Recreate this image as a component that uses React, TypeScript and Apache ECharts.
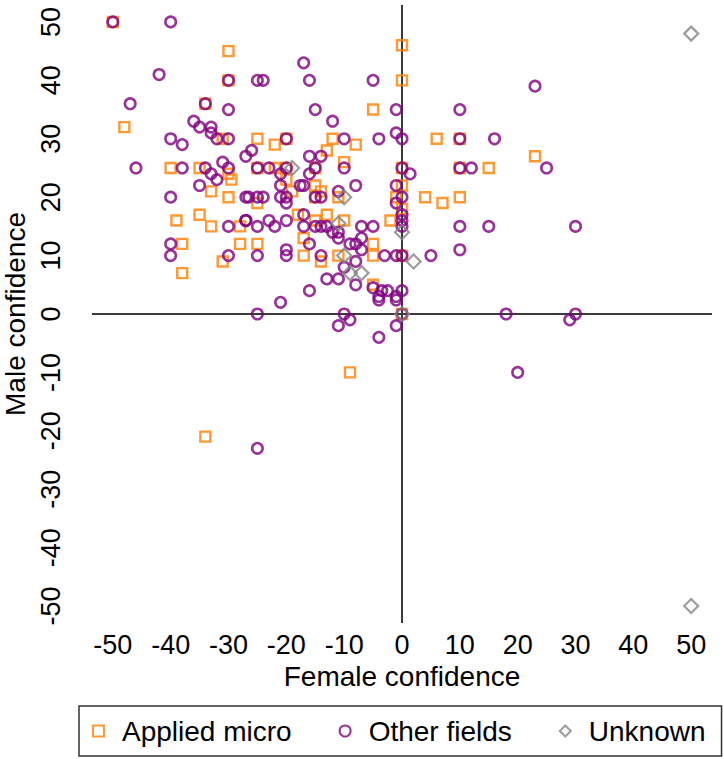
import React, { useEffect, useRef } from 'react';
import * as echarts from 'echarts';

const tickValues = [-50, -40, -30, -20, -10, 0, 10, 20, 30, 40, 50];

const appliedMicro: number[][] = [
  [-50, 50], [-30, 45], [-30, 40], [-34, 36], [-48, 32], [-31, 30], [-40, 25], [-35, 25], [-30, 24], [-29.5, 23],
  [-33, 21], [-30, 20], [-39, 16], [-35, 17], [-33, 15], [-28, 15], [-38, 12], [-28, 12], [-31, 9], [-38, 7], [-34, -21],
  [0, 46], [0, 40], [-5, 35], [-25, 30], [-22, 29], [-20, 30], [-12, 30], [-8, 29], [-13, 28], [-10, 26], [-25, 25],
  [-22, 25], [-20, 25], [-15, 25], [-20, 23], [-19, 21], [-15, 22], [-14, 21], [-11, 20], [-15, 20], [-1, 20], [0, 22],
  [0, 18], [-2, 16], [0, 25], [-25, 19], [-18, 17], [-15, 16], [-13, 17], [-10, 16], [-25, 12], [-17, 13], [-17, 10],
  [-14, 9], [-11, 10], [-5, 12], [-5, 10], [-5, 5], [-9, -10], [0, 10], [0, 0],
  [6, 30], [10, 30], [23, 27], [10, 25], [15, 25], [4, 20], [7, 19], [10, 20],
];

const otherFields: number[][] = [
  [-50, 50], [-40, 50], [-42, 41], [-30, 40], [-47, 36], [-34, 36], [-30, 35], [-36, 33], [-35, 32], [-33, 32],
  [-33, 31], [-32, 30], [-30, 30], [-40, 30], [-38, 29], [-27, 27], [-26, 28], [-46, 25], [-38, 25], [-34, 25],
  [-31, 26], [-30, 25], [-33, 24], [-32, 23], [-35, 22], [-27, 20], [-40, 20], [-30, 15], [-27, 16], [-40, 12],
  [-40, 10], [-30, 10],
  [-17, 43], [-25, 40], [-24, 40], [-16, 40], [-5, 40], [-1, 35], [-15, 35], [-12, 33], [-20, 30], [-10, 30],
  [-4, 30], [-1, 31], [0, 30], [-16, 27], [-14, 27], [-25, 25], [-23, 25], [-20, 25], [-21, 24], [-15, 25],
  [-16, 24], [-10, 25], [-8, 22], [0, 25], [1.4, 24], [-1, 22], [-21, 22], [-17.6, 22], [-17, 22], [-21, 20],
  [-26.5, 20], [-25, 20], [-24, 20], [-15, 20], [-14, 20], [-11, 21], [0, 20], [-1, 19], [-20, 20], [-20, 19],
  [0, 17], [0, 16], [0, 15],
  [-27, 16], [-25, 15], [-23, 16], [-22, 15], [-20, 16], [-17, 17], [-17, 15], [-15, 15], [-14, 15], [-13, 15],
  [-12, 14], [-11, 14], [-7, 15], [-5, 15], [-11, 13], [-8, 12], [-9, 12], [-7, 13], [-7, 11], [-16, 12],
  [-20, 10], [-20, 11], [-25, 10], [-14, 10], [-8, 9], [-10, 8], [-3, 10], [-13, 6], [-11, 6], [-8, 5],
  [-5, 4.5], [-3.5, 4], [-4, 3], [-2.5, 4], [-1, 3], [0, 4], [-16, 4], [-21, 2], [-4, 2.4], [-1, 2.4],
  [-25, 0], [-10, 0], [-9, -1], [-11, -2], [-1, -2], [0, 0], [-4, -4], [-25, -23],
  [23, 39], [10, 35], [10, 30], [16, 30], [10, 25], [12, 25], [25, 25], [10, 15], [15, 15], [30, 15],
  [10, 11], [5, 10], [0, 10], [-1, 10], [18, 0], [30, 0], [29, -1], [20, -10],
];

const unknown: number[][] = [
  [-19, 25], [-10, 20], [-11, 15.5], [-10, 10], [-9, 7], [-7, 7], [0, 14], [2, 9], [0, 0], [50, 48], [50, -50],
];

const FONT = '"Liberation Sans", Arial, sans-serif';

export default function App() {
  const ref = useRef<HTMLDivElement>(null);
  useEffect(() => {
    document.body.style.margin = '0';
    const chart = echarts.init(ref.current!, null, { renderer: 'svg' });
    const tickFmt = (v: number) => (Math.abs(v % 10) < 1e-6 && Math.abs(v) <= 50 ? String(v) : '');
    chart.setOption({
      animation: false,
      backgroundColor: '#ffffff',
      textStyle: { fontFamily: FONT },
      grid: { left: 92, right: 12, top: 5, bottom: 136, containLabel: false, outerBoundsMode: 'none' },
      xAxis: {
        type: 'value',
        min: -53.6,
        max: 53.6,
        minInterval: 10,
        maxInterval: 10,
        axisLine: { show: false },
        axisTick: { show: false },
        splitLine: { show: false },
        axisLabel: {
          customValues: tickValues,
          formatter: tickFmt,
          fontSize: 27,
          color: '#000',
          margin: 8,
          fontFamily: FONT,
        },
        name: 'Female confidence',
        nameLocation: 'middle',
        nameGap: 37,
        nameTextStyle: { fontSize: 28, color: '#000', fontFamily: FONT },
      },
      yAxis: {
        type: 'value',
        min: -52.9,
        max: 52.9,
        minInterval: 10,
        maxInterval: 10,
        axisLine: { show: false },
        axisTick: { show: false },
        splitLine: { show: false },
        axisLabel: {
          customValues: tickValues,
          formatter: tickFmt,
          rotate: 90,
          fontSize: 27,
          color: '#000',
          margin: 28,
          fontFamily: FONT,
        },
        name: 'Male confidence',
        nameLocation: 'middle',
        nameGap: 45,
        nameTextStyle: { fontSize: 28, color: '#000', fontFamily: FONT },
      },
      legend: {
        left: 79,
        top: 706,
        width: 700,
        orient: 'horizontal',
        itemWidth: 11,
        itemHeight: 11,
        itemGap: 47,
        padding: [11, 16, 11, 13],
        borderColor: '#333',
        borderWidth: 1.5,
        textStyle: { fontSize: 28, color: '#000', fontFamily: FONT, padding: [0, 0, 0, 13] },
        data: ['Applied micro', 'Other fields', 'Unknown'],
      },
      series: [
        {
          name: 'Applied micro',
          type: 'scatter',
          data: appliedMicro,
          symbol: 'rect',
          symbolSize: 10,
          itemStyle: { color: 'rgba(255,255,255,0)', borderColor: '#ff7f00', borderWidth: 2.4 },
          z: 2,
          markLine: {
            silent: true,
            z: 1,
            symbol: 'none',
            label: { show: false },
            lineStyle: { color: '#3a3a3a', width: 2, type: 'solid' },
            data: [{ xAxis: 0 }, { yAxis: 0 }],
          },
        },
        {
          name: 'Other fields',
          type: 'scatter',
          data: otherFields,
          symbol: 'circle',
          symbolSize: 10.5,
          itemStyle: { color: 'rgba(255,255,255,0)', borderColor: '#800080', borderWidth: 2.6 },
          z: 3,
        },
        {
          name: 'Unknown',
          type: 'scatter',
          data: unknown,
          symbol: 'diamond',
          symbolSize: 14,
          itemStyle: { color: 'rgba(255,255,255,0)', borderColor: '#858585', borderWidth: 2.2 },
          z: 4,
        },
      ],
    });
    return () => chart.dispose();
  }, []);
  return <div ref={ref} style={{ width: 724, height: 759 }} />;
}
